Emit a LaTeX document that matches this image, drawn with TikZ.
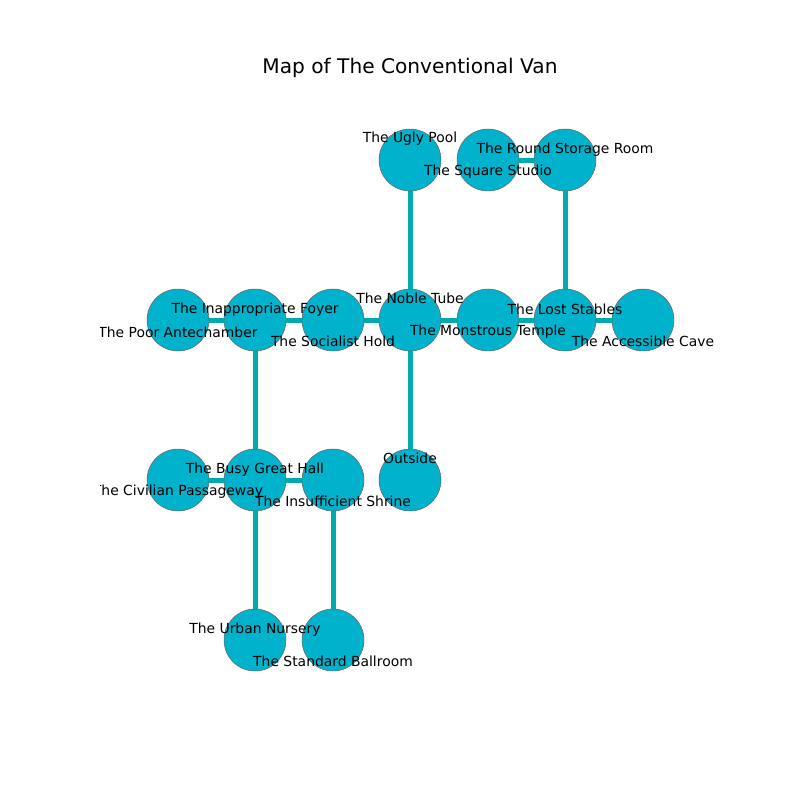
\documentclass[tikz,border=0pt]{standalone}
\usepackage{fontspec}
\setmainfont{DejaVu Sans}
\definecolor{nodefill}{HTML}{00B2CB}
\definecolor{edgecol}{HTML}{00AAAF}
\begin{document}
\begin{tikzpicture}[x=0.72pt,y=-0.72pt,
  room/.style={circle,draw=gray!80!black,line width=0.4pt,fill=nodefill,minimum size=44.6pt,inner sep=0pt},
  link/.style={draw=edgecol,line width=3.6pt},
  lbl/.style={font=\fontsize{10}{12}\selectfont,inner sep=0pt,text=black}]
\useasboundingbox (0,0) rectangle (800,800);
% room positions
\path (410,160) coordinate (pUgly)
      (488,160) coordinate (pSquare)
      (565,160) coordinate (pRound)
      (178,320) coordinate (pPoor)
      (255,320) coordinate (pFoyer)
      (333,320) coordinate (pSocial)
      (410,320) coordinate (pNoble)
      (488,320) coordinate (pTemple)
      (565,320) coordinate (pStables)
      (643,320) coordinate (pCave)
      (178,480) coordinate (pCivil)
      (255,480) coordinate (pHall)
      (333,480) coordinate (pShrine)
      (410,480) coordinate (pOutside)
      (255,640) coordinate (pNursery)
      (333,640) coordinate (pBall);
% edges (drawn below nodes)
\path[link] (pUgly) -- (pNoble);
\path[link] (pSquare) -- (pRound);
\path[link] (pRound) -- (pStables);
\path[link] (pPoor) -- (pFoyer);
\path[link] (pFoyer) -- (pSocial);
\path[link] (pSocial) -- (pNoble);
\path[link] (pNoble) -- (pTemple);
\path[link] (pTemple) -- (pStables);
\path[link] (pStables) -- (pCave);
\path[link] (pFoyer) -- (pHall);
\path[link] (pNoble) -- (pOutside);
\path[link] (pCivil) -- (pHall);
\path[link] (pHall) -- (pShrine);
\path[link] (pHall) -- (pNursery);
\path[link] (pShrine) -- (pBall);
% nodes
\node[room] (ugly) at (pUgly) {};
\node[room] (square) at (pSquare) {};
\node[room] (round) at (pRound) {};
\node[room] (poor) at (pPoor) {};
\node[room] (foyer) at (pFoyer) {};
\node[room] (social) at (pSocial) {};
\node[room] (noble) at (pNoble) {};
\node[room] (temple) at (pTemple) {};
\node[room] (stables) at (pStables) {};
\node[room] (cave) at (pCave) {};
\node[room] (civil) at (pCivil) {};
\node[room] (hall) at (pHall) {};
\node[room] (shrine) at (pShrine) {};
\node[room] (outside) at (pOutside) {};
\node[room] (nursery) at (pNursery) {};
\node[room] (ball) at (pBall) {};
% labels
\begin{scope}
\clip (100,96) rectangle (720,712);
\node[lbl] (lUgly) at ([yshift=15.2pt]ugly.center) {The Ugly Pool};
\node[lbl] (lSquare) at ([yshift=-8.6pt]square.center) {The Square Studio};
\node[lbl] (lRound) at ([yshift=7.2pt]round.center) {The Round Storage Room};
\node[lbl] (lPoor) at ([yshift=-8.6pt]poor.center) {The Poor Antechamber};
\node[lbl] (lFoyer) at ([yshift=7.2pt]foyer.center) {The Inappropriate Foyer};
\node[lbl] (lSocial) at ([yshift=-15.6pt]social.center) {The Socialist Hold};
\node[lbl] (lNoble) at ([yshift=15.6pt]noble.center) {The Noble Tube};
\node[lbl] (lTemple) at ([yshift=-8.6pt]temple.center) {The Monstrous Temple};
\node[lbl] (lStables) at ([yshift=7.6pt]stables.center) {The Lost Stables};
\node[lbl] (lCave) at ([yshift=-15.6pt]cave.center) {The Accessible Cave};
\node[lbl] (lCivil) at ([yshift=-8.2pt]civil.center) {The Civilian Passageway};
\node[lbl] (lHall) at ([yshift=7.6pt]hall.center) {The Busy Great Hall};
\node[lbl] (lShrine) at ([yshift=-15.6pt]shrine.center) {The Insufficient Shrine};
\node[lbl] (lOutside) at ([yshift=15.6pt]outside.center) {Outside};
\node[lbl] (lNursery) at ([yshift=7.6pt]nursery.center) {The Urban Nursery};
\node[lbl] (lBall) at ([yshift=-15.6pt]ball.center) {The Standard Ballroom};
\end{scope}
\node[font=\fontsize{14.5}{17}\selectfont,inner sep=0pt] (title) at (410,67.5) {Map of The Conventional Van};
\end{tikzpicture}
\end{document}
